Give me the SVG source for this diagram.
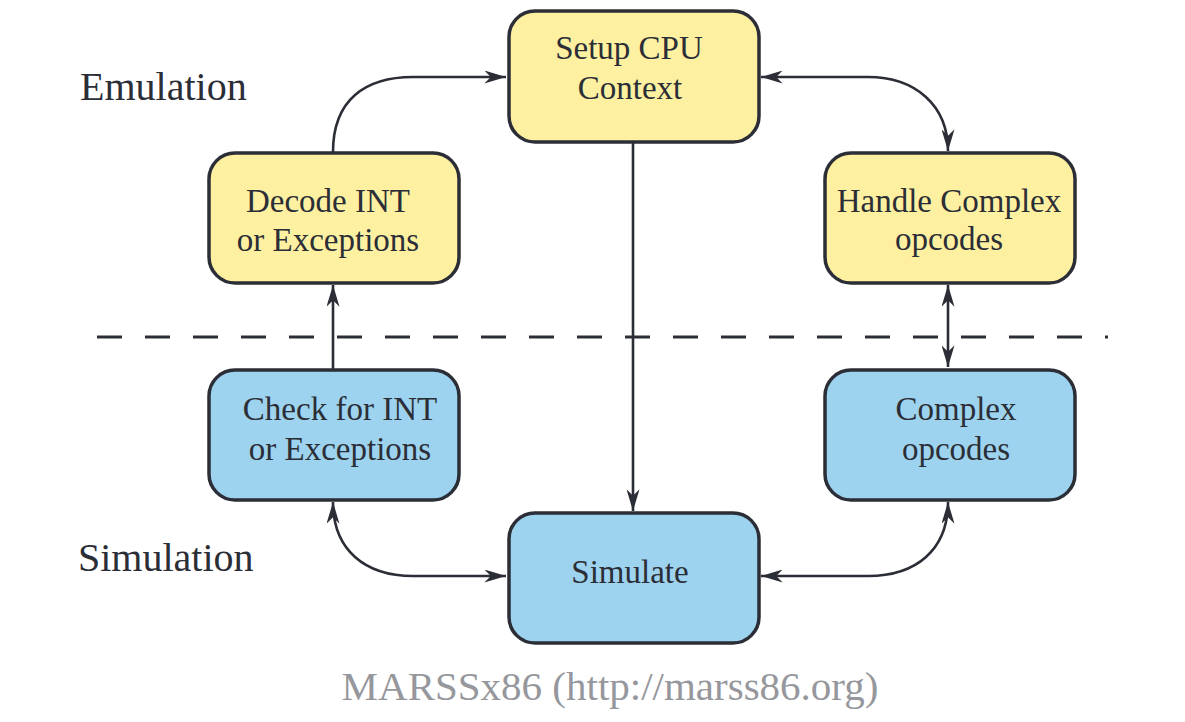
<svg xmlns="http://www.w3.org/2000/svg" width="1185" height="722" viewBox="0 0 1185 722">
<style>
.box{stroke:#2b2e36;stroke-width:3.5}
.emu{fill:#fdf0a1}
.sim{fill:#9dd3ee}
.t{font-family:"Liberation Serif","DejaVu Serif",serif;font-size:33px;fill:#2b2e36;text-anchor:middle}
.lbl{font-family:"Liberation Serif","DejaVu Serif",serif;font-size:40px;fill:#2b2e36}
.c{fill:none;stroke:#2b2e36;stroke-width:2.6}
</style>
<defs>
<marker id="arr" viewBox="0 0 20 12" refX="20" refY="6" markerWidth="22" markerHeight="13" markerUnits="userSpaceOnUse" orient="auto-start-reverse">
<path d="M0,0 L20,6 L0,12 L6,6 Z" fill="#2b2e36"/>
</marker>
</defs>
<rect width="1185" height="722" fill="#ffffff"/>
<text class="lbl" x="80" y="100">Emulation</text>
<text class="lbl" x="78" y="571">Simulation</text>
<path d="M97,337 L1108,337" stroke="#2b2e36" stroke-width="3" stroke-dasharray="25 23" fill="none"/>
<g id="connectors">
<path class="c" d="M333,152 C333,100 365,77 413,77 L506,77" marker-end="url(#arr)"/>
<path class="c" d="M761,77 L868,77 C915,77 948,105 948,151" marker-start="url(#arr)" marker-end="url(#arr)"/>
<path class="c" d="M633,143 L633,511" marker-end="url(#arr)"/>
<path class="c" d="M948,285 L948,367" marker-start="url(#arr)" marker-end="url(#arr)"/>
<path class="c" d="M333,369 L333,285" marker-end="url(#arr)"/>
<path class="c" d="M333,502 C333,550 365,576 413,576 L506,576" marker-start="url(#arr)" marker-end="url(#arr)"/>
<path class="c" d="M948,502 C948,550 916,576 868,576 L761,576" marker-start="url(#arr)" marker-end="url(#arr)"/>
</g>
<g id="setup">
<rect class="box emu" x="509" y="11" width="250" height="131" rx="26"/>
<text class="t" x="629" y="59">Setup CPU</text>
<text class="t" x="630" y="99">Context</text>
</g>
<g id="decode">
<rect class="box emu" x="209" y="153" width="250" height="130" rx="26"/>
<text class="t" x="328" y="212">Decode INT</text>
<text class="t" x="328" y="251">or Exceptions</text>
</g>
<g id="handle">
<rect class="box emu" x="825" y="153" width="250" height="130" rx="26"/>
<text class="t" x="949" y="212">Handle Complex</text>
<text class="t" x="949" y="250">opcodes</text>
</g>
<g id="check">
<rect class="box sim" x="209" y="370" width="250" height="130" rx="26"/>
<text class="t" x="340" y="420">Check for INT</text>
<text class="t" x="340" y="460">or Exceptions</text>
</g>
<g id="complex">
<rect class="box sim" x="825" y="370" width="250" height="130" rx="26"/>
<text class="t" x="956" y="420">Complex</text>
<text class="t" x="956" y="460">opcodes</text>
</g>
<g id="simulate">
<rect class="box sim" x="509" y="513" width="250" height="130" rx="26"/>
<text class="t" x="630" y="583">Simulate</text>
</g>
<text x="610" y="700" font-family="Liberation Serif,DejaVu Serif,serif" font-size="41" fill="#96979c" text-anchor="middle">MARSSx86 (http://marss86.org)</text>
</svg>
